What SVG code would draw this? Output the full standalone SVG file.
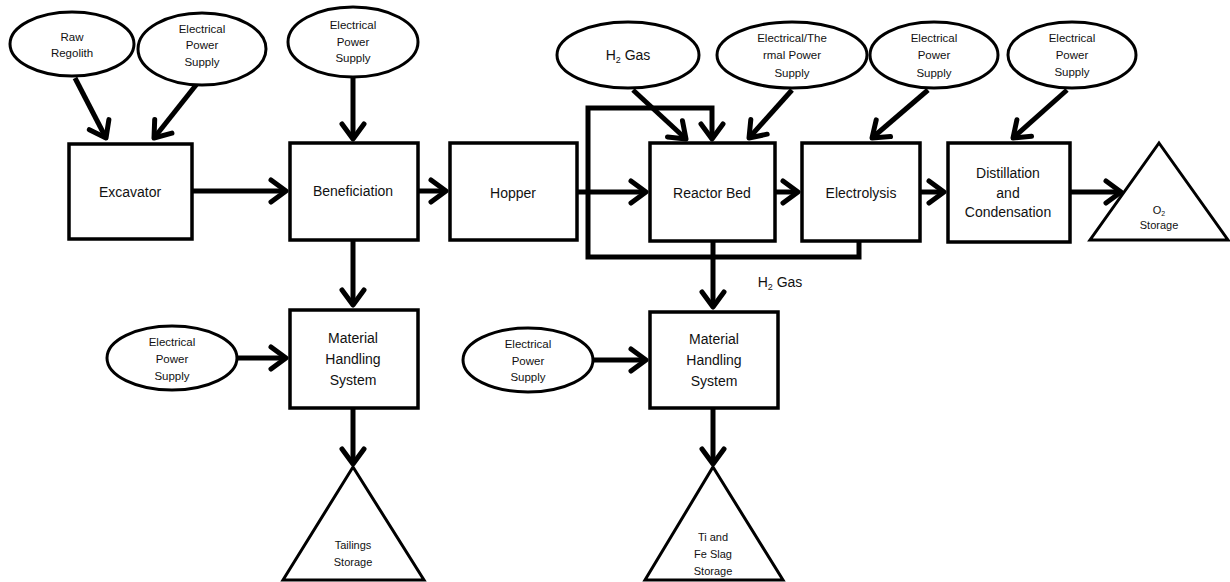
<svg xmlns="http://www.w3.org/2000/svg" width="1230" height="582" viewBox="0 0 1230 582">
<style>
.box{fill:#fff;stroke:#000;stroke-width:3.5}
.ell{fill:#fff;stroke:#000;stroke-width:3}
.tri{fill:#fff;stroke:#000;stroke-width:3}
.c{fill:none;stroke:#000;stroke-width:5;stroke-linejoin:miter}
.t{font-family:"Liberation Sans",Arial,sans-serif;font-size:14px;fill:#111;text-anchor:middle}
.s{font-family:"Liberation Sans",Arial,sans-serif;font-size:11.5px;fill:#111;text-anchor:middle}
.x{font-family:"Liberation Sans",Arial,sans-serif;font-size:11px;fill:#111;text-anchor:middle}
</style>
<defs>
<marker id="ah" markerUnits="userSpaceOnUse" markerWidth="40" markerHeight="40" viewBox="-20 -20 40 40" refX="0" refY="0" orient="auto" overflow="visible">
<path d="M-15,-11 L0,0 L-15,11" fill="none" stroke="#000" stroke-width="5" stroke-linejoin="round" stroke-linecap="round"/>
</marker>
</defs>
<rect width="1230" height="582" fill="#fff"/>

<g id="connectors">
<path class="c" d="M75,78 L106,138" marker-end="url(#ah)"/>
<path class="c" d="M200,80 L154,138" marker-end="url(#ah)"/>
<path class="c" d="M353,77 V139" marker-end="url(#ah)"/>
<path class="c" d="M192,191 H286" marker-end="url(#ah)"/>
<path class="c" d="M418,191 H446" marker-end="url(#ah)"/>
<path class="c" d="M577,192 H646" marker-end="url(#ah)"/>
<path class="c" d="M775,192 H798" marker-end="url(#ah)"/>
<path class="c" d="M920,192 H944" marker-end="url(#ah)"/>
<path class="c" d="M1070,192 H1121" marker-end="url(#ah)"/>
<path class="c" d="M633,90 L686,139" marker-end="url(#ah)"/>
<path class="c" d="M792,90 L749,138" marker-end="url(#ah)"/>
<path class="c" d="M928,90 L872,138" marker-end="url(#ah)"/>
<path class="c" d="M1067,90 L1013,138" marker-end="url(#ah)"/>
<path class="c" d="M859,241 V257 H588 V108 H712 V139" marker-end="url(#ah)"/>
<path class="c" d="M713,241 V307" marker-end="url(#ah)"/>
<path class="c" d="M353,240 V305" marker-end="url(#ah)"/>
<path class="c" d="M237,358 H286" marker-end="url(#ah)"/>
<path class="c" d="M592,360 H646" marker-end="url(#ah)"/>
<path class="c" d="M353,408 V464" marker-end="url(#ah)"/>
<path class="c" d="M713,408 V464" marker-end="url(#ah)"/>
<text class="t" x="780" y="287">H<tspan font-size="9" dy="3">2</tspan><tspan dy="-3"> Gas</tspan></text>
</g>

<g id="raw-regolith">
<ellipse class="ell" cx="72" cy="44" rx="62" ry="32"/>
<text class="s" x="72" y="41">Raw</text>
<text class="s" x="72" y="57">Regolith</text>
</g>
<g id="power-excavator">
<ellipse class="ell" cx="202" cy="49" rx="64" ry="36"/>
<text class="s" x="202" y="33">Electrical</text>
<text class="s" x="202" y="49">Power</text>
<text class="s" x="202" y="66">Supply</text>
</g>
<g id="power-beneficiation">
<ellipse class="ell" cx="353" cy="42" rx="65" ry="35"/>
<text class="s" x="353" y="29">Electrical</text>
<text class="s" x="353" y="46">Power</text>
<text class="s" x="353" y="62">Supply</text>
</g>
<g id="h2-gas-in">
<ellipse class="ell" cx="628" cy="55" rx="71" ry="33"/>
<text class="t" x="628" y="60">H<tspan font-size="9" dy="3">2</tspan><tspan dy="-3"> Gas</tspan></text>
</g>
<g id="power-reactor">
<ellipse class="ell" cx="792" cy="55" rx="75" ry="33"/>
<text class="s" x="792" y="42">Electrical/The</text>
<text class="s" x="792" y="59">rmal Power</text>
<text class="s" x="792" y="77">Supply</text>
</g>
<g id="power-electrolysis">
<ellipse class="ell" cx="934" cy="55" rx="64" ry="33"/>
<text class="s" x="934" y="42">Electrical</text>
<text class="s" x="934" y="59">Power</text>
<text class="s" x="934" y="77">Supply</text>
</g>
<g id="power-distillation">
<ellipse class="ell" cx="1072" cy="55" rx="64" ry="33"/>
<text class="s" x="1072" y="42">Electrical</text>
<text class="s" x="1072" y="59">Power</text>
<text class="s" x="1072" y="76">Supply</text>
</g>

<g id="excavator">
<rect class="box" x="69" y="144" width="123" height="95"/>
<text class="t" x="130" y="197">Excavator</text>
</g>
<g id="beneficiation">
<rect class="box" x="290" y="143" width="128" height="97"/>
<text class="t" x="353" y="196">Beneficiation</text>
</g>
<g id="hopper">
<rect class="box" x="450" y="143" width="127" height="97"/>
<text class="t" x="513" y="198">Hopper</text>
</g>
<g id="reactor-bed">
<rect class="box" x="650" y="143" width="125" height="98"/>
<text class="t" x="712" y="198">Reactor Bed</text>
</g>
<g id="electrolysis">
<rect class="box" x="802" y="143" width="118" height="98"/>
<text class="t" x="861" y="198">Electrolysis</text>
</g>
<g id="distillation">
<rect class="box" x="948" y="143" width="122" height="99"/>
<text class="t" x="1008" y="178">Distillation</text>
<text class="t" x="1008" y="198">and</text>
<text class="t" x="1008" y="217">Condensation</text>
</g>
<g id="o2-storage">
<polygon class="tri" points="1159,143 1228,240 1090,240"/>
<text class="x" x="1159" y="214">O<tspan font-size="7" dy="2">2</tspan></text>
<text class="x" x="1159" y="229">Storage</text>
</g>

<g id="power-mh1">
<ellipse class="ell" cx="172" cy="358" rx="65" ry="32"/>
<text class="s" x="172" y="346">Electrical</text>
<text class="s" x="172" y="363">Power</text>
<text class="s" x="172" y="380">Supply</text>
</g>
<g id="material-handling-1">
<rect class="box" x="290" y="310" width="128" height="98"/>
<text class="t" x="353" y="343">Material</text>
<text class="t" x="353" y="364">Handling</text>
<text class="t" x="353" y="385">System</text>
</g>
<g id="tailings-storage">
<polygon class="tri" points="353,467 424,580 283,580"/>
<text class="x" x="353" y="549">Tailings</text>
<text class="x" x="353" y="566">Storage</text>
</g>

<g id="power-mh2">
<ellipse class="ell" cx="528" cy="360" rx="65" ry="32"/>
<text class="s" x="528" y="348">Electrical</text>
<text class="s" x="528" y="365">Power</text>
<text class="s" x="528" y="381">Supply</text>
</g>
<g id="material-handling-2">
<rect class="box" x="650" y="312" width="128" height="96"/>
<text class="t" x="714" y="344">Material</text>
<text class="t" x="714" y="365">Handling</text>
<text class="t" x="714" y="386">System</text>
</g>
<g id="ti-fe-slag-storage">
<polygon class="tri" points="713,467 783,580 645,580"/>
<text class="x" x="713" y="541">Ti and</text>
<text class="x" x="713" y="558">Fe Slag</text>
<text class="x" x="713" y="575">Storage</text>
</g>
</svg>
